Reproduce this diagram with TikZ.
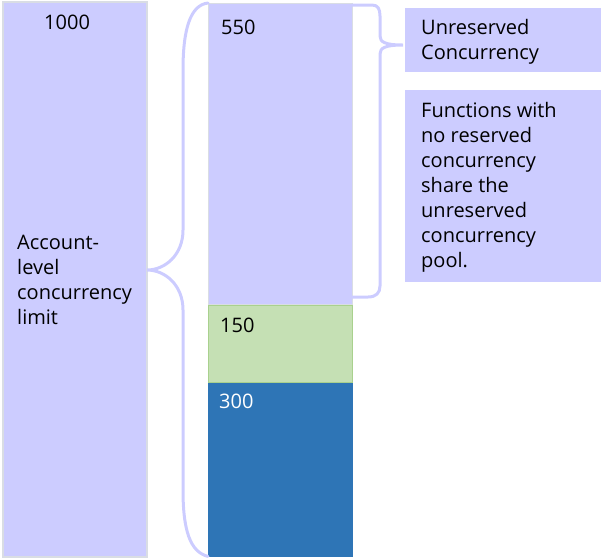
\documentclass[tikz,border=0pt]{standalone}
\usepackage{fontspec}
\setmainfont{Open Sans}
\begin{document}
\begin{tikzpicture}[x=1pt,y=-1pt,
  lav/.style={fill=lavender},
  lbl/.style={anchor=north west,inner sep=0pt,align=left,font=\fontsize{20}{25}\selectfont},
  brace/.style={draw=lavender,line width=3pt,line cap=round}]
\definecolor{lavender}{HTML}{CCCCFF}
\definecolor{edgegrey}{HTML}{D9DDE4}
\definecolor{mint}{HTML}{C5E0B4}
\definecolor{mintedge}{HTML}{A9D18E}
\definecolor{steel}{HTML}{2E75B6}
\useasboundingbox (0,0) rectangle (602,558);
% account-level column
\node[draw=edgegrey,line width=1.5pt,lav,minimum width=144pt,minimum height=555pt,inner sep=0pt,anchor=north west] (acct) at (2,1) {};
\node[lbl] (t1000) at (44,14.7) {1000};
\node[lbl] (tacct) at (17,235) {Account-\\level\\concurrency\\limit};
% stacked pool column
\node[draw=edgegrey,line width=1pt,lav,minimum width=144pt,minimum height=301pt,inner sep=0pt,anchor=north west] (unres) at (208,3) {};
\node[draw=mintedge,line width=1pt,fill=mint,minimum width=144pt,minimum height=77pt,inner sep=0pt,anchor=north west] (res1) at (208,305) {};
\node[draw=steel,fill=steel,minimum width=144pt,minimum height=173pt,inner sep=0pt,anchor=north west] (res2) at (208,383) {};
\node[lbl] (t550) at (221,19.7) {550};
\node[lbl] (t150) at (220,317.7) {150};
\node[lbl,text=white] (t300) at (219,393.7) {300};
% description boxes
\node[lav,minimum width=196pt,minimum height=64pt,inner sep=0pt,anchor=north west] (ubox) at (405,8) {};
\node[lbl] (tunres) at (421,19) {Unreserved\\Concurrency};
\node[lav,minimum width=196pt,minimum height=192pt,inner sep=0pt,anchor=north west] (fbox) at (405,90) {};
\node[lbl] (tfunc) at (421,101.8) {Functions with\\no reserved\\concurrency\\share the\\unreserved\\concurrency\\pool.};
% braces
\coordinate (ltip) at (147,270);
\draw[brace] (unres.north west) .. controls (190,5) and (183,30) .. (183,70)
  -- (183,230) .. controls (183,255) and (165,270) .. (ltip)
  .. controls (165,270) and (183,285) .. (183,310)
  -- (183,490) .. controls (183,530) and (190,552) .. (res2.south west);
\coordinate (rtip) at (403,45);
\draw[brace] (352,5) -- (372,5) .. controls (378,5) and (380,9) .. (380,16)
  -- (380,36) .. controls (380,42) and (385,45) .. (rtip)
  .. controls (385,45) and (380,48) .. (380,54)
  -- (380,286) .. controls (380,293) and (376,297) .. (368,297) -- (352,297);
\end{tikzpicture}
\end{document}
